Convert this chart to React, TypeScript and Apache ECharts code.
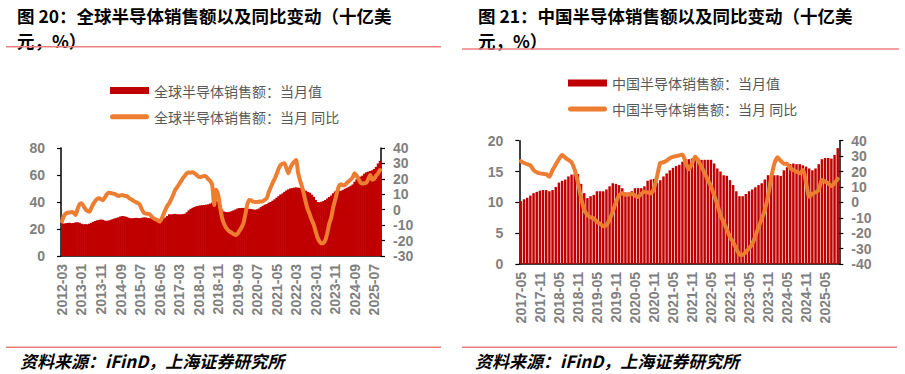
import React, { useEffect, useRef } from "react";
import * as echarts from "echarts";

// ---------- data ----------
const globalStart = [2012, 3];
const chinaStart = [2017, 5];

// 全球半导体销售额：当月值 (十亿美元), 2012-03 .. 2025-10
const globalSales = [
  24.2, 24.0, 24.3, 24.5, 24.6, 24.3, 24.5, 24.9, 25.0, 24.6,
  23.9, 23.5, 23.6, 23.5, 23.9, 24.6, 25.3, 25.9, 26.4, 26.7, 27.0, 26.8,
  26.2, 26.0, 26.3, 26.8, 27.3, 27.8, 28.2, 28.7, 29.3, 29.6, 29.4, 29.0,
  28.4, 28.0, 27.9, 28.1, 28.3, 28.1, 28.0, 28.3, 28.6, 28.5, 28.2, 28.0,
  27.5, 26.8, 26.3, 26.0, 26.2, 26.8, 27.6, 28.5, 29.6, 30.9, 30.8, 31.0,
  31.2, 30.9, 30.8, 30.9, 31.0, 31.3, 32.4, 33.8, 34.9, 35.7, 36.3, 36.9,
  37.2, 37.5, 37.6, 37.8, 38.0, 38.3, 38.8, 39.6, 40.3, 41.0, 40.0, 37.5,
  34.5, 33.0, 32.6, 32.5, 32.8, 33.2, 33.8, 34.5, 35.2, 35.5, 35.6, 35.6,
  35.2, 34.8, 35.0, 34.8, 34.5, 34.3, 34.6, 35.2, 36.3, 37.2, 38.0, 38.5,
  39.5, 40.0, 41.0, 42.0, 43.2, 44.3, 45.5, 46.3, 47.5, 48.5, 49.3, 50.0,
  50.3, 50.6, 50.8, 50.6, 50.3, 50.0, 49.2, 48.3, 47.5, 46.8, 45.5, 43.8,
  41.5, 40.0, 39.8, 40.2, 40.7, 41.5, 42.6, 43.7, 44.8, 46.5, 47.8, 48.8,
  48.5, 48.2, 49.0, 49.8, 50.5, 51.2, 52.0, 53.0, 55.0, 56.8, 58.0, 58.8,
  59.5, 61.0, 62.0, 62.5, 63.0, 63.5, 64.5, 66.0, 68.5, 70.5,
];

// 全球半导体销售额：当月 同比 (%)
const globalYoY = [
  -7.5, -4.0, -2.5, -2.0, -1.8, -1.5, -2.0, -3.4, 0.5, 3.5,
  4.2, 2.5, 0.5, -0.8, -1.3, 1.0, 3.5, 5.5, 7.0, 7.4, 6.8, 6.1,
  8.0, 10.0, 11.2, 10.8, 10.5, 10.2, 9.5, 8.9, 9.3, 9.5, 9.0, 8.9,
  8.0, 7.0, 6.3, 5.5, 4.8, 4.2, 3.0, 0.0, -2.0, -2.5, -2.6, -3.0,
  -4.5, -5.6, -6.2, -6.8, -7.7, -6.0, -3.0, 0.0, 2.5, 4.2, 6.8, 9.5,
  12.8, 14.5, 16.5, 18.5, 20.5, 22.0, 23.6, 24.2, 24.0, 24.3, 23.5, 22.5,
  21.4, 21.2, 21.5, 21.8, 21.4, 19.7, 18.5, 16.0, 3.0, 13.0, 10.0, 2.0,
  -5.0, -9.0, -11.5, -13.0, -14.2, -15.0, -15.8, -16.4, -15.5, -13.5, -11.5, -8.8,
  -3.0, 3.5, 6.3, 6.0, 5.2, 5.0, 5.0, 5.2, 5.3, 5.5, 6.5, 7.5,
  11.5, 14.5, 17.5, 20.0, 23.0, 26.5, 29.0, 29.8, 30.1, 27.0, 23.6, 27.0,
  29.5, 31.0, 32.2, 24.0, 19.0, 15.0, 10.0, 4.5, 0.0, -3.0, -6.7, -9.5,
  -14.0, -18.0, -20.5, -21.8, -21.5, -19.6, -15.0, -9.0, -5.0, 1.5, 6.3, 11.5,
  15.5, 16.5, 15.8, 16.0, 17.5, 18.5, 19.5, 21.0, 23.6, 22.0, 20.0, 17.5,
  17.0, 17.2, 17.5, 20.0, 22.5, 19.5, 20.0, 22.0, 23.6, 25.7,
];

// 中国半导体销售额：当月值 (十亿美元), 2017-05 .. 2025-09
const chinaSales = [
  10.2, 10.5, 10.75, 11.1, 11.5, 11.7, 11.9, 12.0,
  12.0, 11.8, 12.0, 12.5, 13.2, 13.5, 13.7, 14.2, 14.5, 14.6, 14.6, 13.0,
  11.5, 10.7, 11.0, 11.2, 11.8, 11.8, 11.8, 12.1, 12.6, 13.1, 13.0, 12.8,
  12.3, 11.6, 11.6, 11.8, 12.3, 12.3, 12.3, 12.6, 13.5, 13.7, 13.8, 13.2,
  13.6, 14.2, 14.7, 15.2, 15.6, 15.9, 16.1, 16.6, 17.0, 17.0, 17.1, 17.0,
  17.1, 16.9, 16.9, 16.9, 16.9, 16.3, 15.5, 15.0, 14.4, 14.3, 13.6, 12.8,
  11.8, 11.0, 11.0, 11.35, 11.8, 12.1, 12.45, 12.8, 13.1, 13.7, 14.4, 14.5,
  14.4, 14.4, 14.3, 15.2, 15.7, 16.2, 16.3, 16.2, 16.2, 16.0, 15.8, 15.5,
  15.2, 15.5, 16.2, 17.0, 17.2, 17.2, 17.1, 17.7, 18.8,
];

// 中国半导体销售额：当月 同比 (%)
const chinaYoY = [
  26.8, 25.5, 24.8, 24.0, 21.0, 19.5, 18.8, 18.5,
  18.3, 16.6, 21.0, 24.5, 28.0, 30.7, 29.0, 27.5, 26.0, 21.0, 13.0, 3.0,
  -5.0, -8.2, -9.7, -10.4, -12.6, -14.0, -15.5, -15.0, -11.0, -6.0, 0.0, 4.5,
  5.9, 5.0, 5.0, 5.4, 4.5, 3.5, 5.5, 6.9, 6.5, 5.8, 9.0, 17.0,
  25.7, 26.0, 27.0, 28.6, 29.5, 30.0, 30.5, 31.0, 26.0, 21.4, 25.0, 29.6,
  27.0, 23.0, 19.0, 14.5, 10.5, 4.5, -1.5, -8.5, -13.0, -17.5, -22.5, -26.0,
  -30.0, -34.0, -34.2, -32.0, -30.0, -27.0, -22.0, -16.0, -11.0, -5.0, 4.0, 16.0,
  25.0, 29.2, 27.0, 25.0, 25.0, 22.1, 21.0, 19.9, 18.8, 21.0, 13.0, 3.7,
  5.5, 6.5, 8.0, 14.5, 13.5, 12.4, 10.6, 12.5, 15.2,
];

const legendNames = [
  "全球半导体销售额：当月值",
  "全球半导体销售额：当月 同比",
  "中国半导体销售额：当月值",
  "中国半导体销售额：当月 同比",
];

const titles = [
  "图 20：全球半导体销售额以及同比变动（十亿美\n元，%）",
  "图 21：中国半导体销售额以及同比变动（十亿美\n元，%）",
];
const sourceText = "资料来源：iFinD，上海证券研究所";

function monthLabels(start: number[], count: number): string[] {
  const out: string[] = [];
  let y = start[0];
  let m = start[1];
  for (let i = 0; i < count; i++) {
    out.push(`${y}-${m < 10 ? "0" + m : m}`);
    m++;
    if (m > 12) {
      m = 1;
      y++;
    }
  }
  return out;
}

const globalMonths = monthLabels(globalStart, globalSales.length);
const chinaMonths = monthLabels(chinaStart, chinaSales.length);

const RED = "#C00000";
const ORANGE = "#ED7D31";
const AXIS_COLOR = "#000000";
const LABEL_COLOR = "#7F7F7F";
const SEP = "#EF7F7F";
const LATIN = "'Liberation Sans', Arial, 'Noto Sans CJK SC', sans-serif";
const CJK = "'Noto Sans CJK SC', 'Liberation Sans', sans-serif";
const LINE_ICON =
  "path://M2.5,0 L36.5,0 A2.5,2.5 0 0 1 36.5,5 L2.5,5 A2.5,2.5 0 0 1 2.5,0 Z";

function xAxisCfg(gridIndex: number, data: string[], interval: number) {
  return {
    type: "category",
    gridIndex,
    data,
    boundaryGap: true,
    axisLine: { onZero: false, lineStyle: { color: AXIS_COLOR, width: 1.5 } },
    axisTick: {
      alignWithLabel: true,
      interval,
      length: 4,
      lineStyle: { color: AXIS_COLOR, width: 1.2 },
    },
    axisLabel: {
      interval,
      rotate: 90,
      fontSize: 14,
      fontWeight: "bold",
      fontFamily: LATIN,
      color: LABEL_COLOR,
      margin: 8,
    },
    splitLine: { show: false },
  };
}

function yAxisCfg(
  gridIndex: number,
  position: "left" | "right",
  min: number,
  max: number,
  interval: number,
  margin: number
) {
  return {
    type: "value",
    gridIndex,
    position,
    min,
    max,
    interval,
    axisLine: { show: true, lineStyle: { color: AXIS_COLOR, width: 1.5 } },
    axisTick: { show: true, length: 4, lineStyle: { color: AXIS_COLOR, width: 1.2 } },
    axisLabel: {
      fontSize: 14,
      fontWeight: "bold",
      fontFamily: LATIN,
      color: LABEL_COLOR,
      margin,
    },
    splitLine: { show: false },
  };
}

function legendCfg(name: string, left: number, top: number, isBar: boolean) {
  return {
    data: [{ name, icon: isBar ? "rect" : LINE_ICON }],
    left,
    top,
    orient: "horizontal",
    itemWidth: 39,
    itemHeight: isBar ? 7 : 5,
    itemGap: 5,
    padding: 0,
    selectedMode: false,
    textStyle: {
      fontSize: 14,
      lineHeight: 16,
      color: "#595959",
      fontFamily: CJK,
    },
  };
}

export default function App() {
  const ref = useRef<HTMLDivElement>(null);

  useEffect(() => {
    if (!ref.current) return;
    const chart = echarts.init(ref.current, null, { renderer: "svg" });

    const option: any = {
      animation: false,
      backgroundColor: "#ffffff",
      textStyle: { fontFamily: LATIN },
      grid: [
        { left: 61, top: 148, width: 320, height: 108 },
        { left: 519.3, top: 140.7, width: 320, height: 123.3 },
      ],
      xAxis: [xAxisCfg(0, globalMonths, 9), xAxisCfg(1, chinaMonths, 5)],
      yAxis: [
        yAxisCfg(0, "left", 0, 80, 20, 16),
        yAxisCfg(0, "right", -30, 40, 10, 12),
        yAxisCfg(1, "left", 0, 20, 5, 16),
        yAxisCfg(1, "right", -40, 40, 10, 12),
      ],
      legend: [
        legendCfg(legendNames[0], 110, 82.5, true),
        legendCfg(legendNames[1], 110, 108.7, false),
        legendCfg(legendNames[2], 568, 75, true),
        legendCfg(legendNames[3], 568, 101, false),
      ],
      series: [
        {
          name: legendNames[0],
          type: "bar",
          xAxisIndex: 0,
          yAxisIndex: 0,
          data: globalSales,
          barWidth: 2.6,
          itemStyle: { color: RED },
          z: 2,
        },
        {
          name: legendNames[1],
          type: "line",
          xAxisIndex: 0,
          yAxisIndex: 1,
          data: globalYoY,
          symbol: "none",
          showSymbol: false,
          smooth: 0.2,
          lineStyle: { color: ORANGE, width: 4, cap: "round", join: "round" },
          itemStyle: { color: ORANGE },
          z: 3,
        },
        {
          name: legendNames[2],
          type: "bar",
          xAxisIndex: 1,
          yAxisIndex: 2,
          data: chinaSales,
          barCategoryGap: "22%",
          itemStyle: { color: RED },
          z: 2,
        },
        {
          name: legendNames[3],
          type: "line",
          xAxisIndex: 1,
          yAxisIndex: 3,
          data: chinaYoY,
          symbol: "none",
          showSymbol: false,
          smooth: 0.2,
          lineStyle: { color: ORANGE, width: 4, cap: "round", join: "round" },
          itemStyle: { color: ORANGE },
          z: 3,
        },
      ],
      graphic: [
        {
          type: "text",
          x: 17,
          y: 2.5,
          style: {
            text: titles[0],
            font: `bold 17.5px ${CJK}`,
            lineHeight: 25.5,
            fill: "#000000",
            align: "left",
            verticalAlign: "top",
          },
        },
        {
          type: "text",
          x: 478,
          y: 2.5,
          style: {
            text: titles[1],
            font: `bold 17.5px ${CJK}`,
            lineHeight: 25.5,
            fill: "#000000",
            align: "left",
            verticalAlign: "top",
          },
        },
        {
          type: "line",
          shape: { x1: 6, y1: 46.7, x2: 441, y2: 46.7 },
          style: { stroke: SEP, lineWidth: 1.6 },
        },
        {
          type: "line",
          shape: { x1: 462, y1: 49, x2: 899, y2: 49 },
          style: { stroke: SEP, lineWidth: 1.6 },
        },
        {
          type: "line",
          shape: { x1: 6, y1: 347.3, x2: 441, y2: 347.3 },
          style: { stroke: SEP, lineWidth: 1.6 },
        },
        {
          type: "line",
          shape: { x1: 462, y1: 347.3, x2: 897, y2: 347.3 },
          style: { stroke: SEP, lineWidth: 1.6 },
        },
        {
          type: "text",
          x: 20,
          y: 360,
          style: {
            text: sourceText,
            font: `italic bold 17px ${CJK}`,
            fill: "#000000",
            align: "left",
            verticalAlign: "middle",
          },
        },
        {
          type: "text",
          x: 475,
          y: 360,
          style: {
            text: sourceText,
            font: `italic bold 17px ${CJK}`,
            fill: "#000000",
            align: "left",
            verticalAlign: "middle",
          },
        },
      ],
    };

    chart.setOption(option);
    return () => {
      chart.dispose();
    };
  }, []);

  return (
    <div
      ref={ref}
      style={{ position: "absolute", left: 0, top: 0, width: 905, height: 374 }}
    />
  );
}
